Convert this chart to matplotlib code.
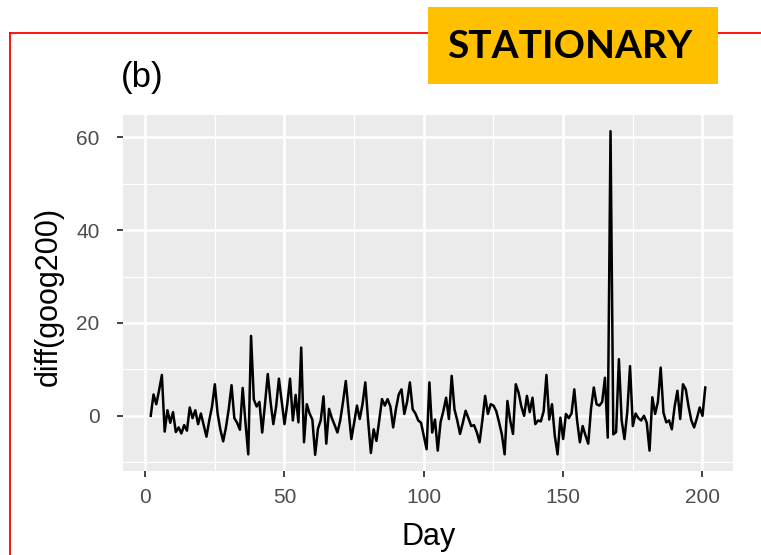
import numpy as np
import matplotlib
matplotlib.use("Agg")
import matplotlib.pyplot as plt
from matplotlib.lines import Line2D
from matplotlib.patches import Rectangle

# daily change of the goog200 closing price, days 2..200
diff_goog200 = [
    0.0, 4.6, 2.5, 5.5, 8.8, -3.4, 1.2, -1.5, 0.8, -3.5,
    -2.5, -3.8, -2.0, -3.2, 1.8, -0.5, 1.2, -1.8, 0.5, -2.0,
    -4.5, -1.0, 2.0, 6.8, 0.5, -3.0, -5.5, -2.5, 1.5, 6.6,
    -0.5, -1.5, -3.0, 6.0, -1.5, -8.3, 17.2, 3.5, 2.0, 3.0,
    -3.6, 2.5, 9.0, 3.0, -1.8, 2.0, 8.0, 3.0, -1.8, 2.5,
    8.0, -1.0, 4.5, -1.4, 14.7, -5.7, 2.5, 0.5, -0.8, -8.4,
    -2.8, -1.0, 4.2, -6.0, 1.5, -0.5, -2.0, -3.6, -1.0, 3.0,
    7.5, 1.0, -5.0, -1.5, 2.2, -0.7, 2.5, 7.2, -1.0, -8.0,
    -2.9, -5.4, -1.0, 3.6, 2.2, 3.6, 2.0, -2.5, 1.5, 4.6,
    5.7, 0.4, 3.0, 7.2, 1.4, 0.5, -1.0, -1.5, -4.3, -7.2,
    7.2, -3.6, -0.8, -7.5, -1.4, 1.0, 3.9, -0.7, 8.6, 1.4,
    -1.0, -3.9, -1.5, 1.1, -0.5, -2.2, -2.0, -3.5, -5.7, -1.0,
    4.3, 0.4, 2.5, 2.2, 1.0, -1.4, -4.0, -8.3, 3.2, -1.0,
    -3.9, 6.8, 5.0, 2.0, 0.0, 4.3, 0.8, 3.9, -1.8, -1.0,
    -1.2, 1.0, 8.8, -0.8, 2.5, -4.3, -8.3, -0.4, -5.0, 0.4,
    -0.5, 0.5, 5.7, -1.0, -5.7, -2.2, -4.2, -6.0, 1.5, 6.1,
    2.5, 2.2, 3.0, 8.2, -4.7, 61.3, -4.0, -3.5, 12.2, -1.0,
    -5.0, 0.8, 10.7, -2.2, 0.5, -0.5, -1.0, 0.0, -1.5, -7.5,
    4.0, 0.4, 3.0, 10.4, 0.7, -1.4, -1.0, -2.9, 2.0, 5.4,
    -0.7, 6.8, 5.7, 2.0, -1.0, -2.5, -0.5, 1.8, 0.0, 6.1,
]
day = np.arange(2, 2 + len(diff_goog200))

x_ticks = [0, 50, 100, 150, 200]
y_ticks = [0, 20, 40, 60]

W, H = 761, 555
plt.rcParams["font.family"] = ["Liberation Sans", "DejaVu Sans"]

fig = plt.figure(figsize=(W / 100, H / 100), dpi=100)
fig.patch.set_facecolor("white")


def fx(x):
    return x / W


def fy(y):
    return 1 - y / H


# ggplot-like panel
ax = fig.add_axes([fx(123), fy(471), fx(733) - fx(123), fy(115) - fy(471)])
ax.set_facecolor("#EBEBEB")
for s in ax.spines.values():
    s.set_visible(False)

ax.plot(day, diff_goog200, color="black", linewidth=1.8, zorder=3)

# 5% expansion on both axes, like ggplot
xr = day.max() - day.min()
ax.set_xlim(day.min() - 0.05 * xr, day.max() + 0.05 * xr)
yv = np.array(diff_goog200)
yr = yv.max() - yv.min()
ax.set_ylim(yv.min() - 0.05 * yr, yv.max() + 0.05 * yr)

ax.set_xticks(x_ticks)
ax.set_yticks(y_ticks)
ax.set_xticks([25, 75, 125, 175], minor=True)
ax.set_yticks([-10, 10, 30, 50], minor=True)
ax.grid(which="major", color="white", linewidth=1.8)
ax.grid(which="minor", color="white", linewidth=0.9)
ax.set_axisbelow(True)
ax.tick_params(which="major", length=4, width=1.3, color="#333333",
               labelcolor="#4D4D4D", labelsize=15)
ax.tick_params(axis="x", pad=8)
ax.tick_params(axis="y", pad=13)
ax.tick_params(which="minor", length=0)

fig.text(fx(429), fy(537), "Day", ha="center", va="center", fontsize=22, color="black")
fig.text(fx(49), fy(296), "diff(goog200)", ha="center", va="center",
         rotation=90, fontsize=22, color="black")
fig.text(fx(121), fy(77), "(b)", ha="left", va="center", fontsize=25, color="black")

# red frame around the panel
fig.add_artist(Line2D([fx(10), 1.0], [fy(33), fy(33)], color="#FF0000", linewidth=1.3))
fig.add_artist(Line2D([fx(10), fx(10)], [fy(33), 0.0], color="#FF0000", linewidth=1.3))

# label box
fig.add_artist(Rectangle((fx(428), fy(84)), fx(718) - fx(428), fy(7) - fy(84),
                         transform=fig.transFigure, facecolor="#FFC000",
                         edgecolor="none", zorder=5))
fig.text(fx(570), fy(46), "STATIONARY", ha="center", va="center", fontsize=28,
         fontweight="bold", family=["Lato", "DejaVu Sans"], color="black", zorder=6)

fig.savefig("out.png", dpi=100)
